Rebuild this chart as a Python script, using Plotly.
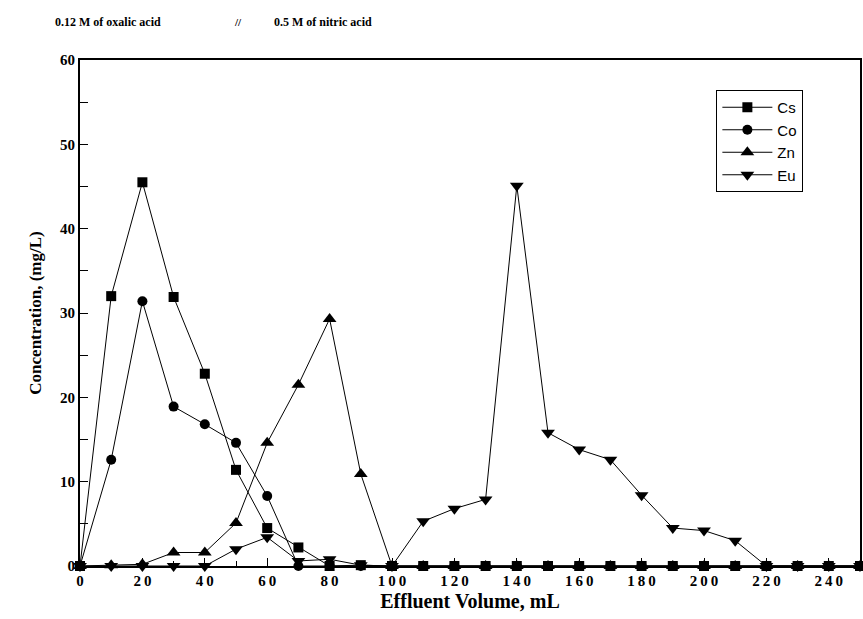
import plotly.graph_objects as go

volume = [0, 10, 20, 30, 40, 50, 60, 70, 80, 90, 100, 110, 120, 130, 140, 150,
          160, 170, 180, 190, 200, 210, 220, 230, 240, 250]
cs = [0, 32.0, 45.5, 31.9, 22.8, 11.4, 4.5, 2.2, 0, 0.1, 0, 0, 0, 0, 0, 0,
      0, 0, 0, 0, 0, 0, 0, 0, 0, 0]
co = [0, 12.6, 31.4, 18.9, 16.8, 14.6, 8.3, 0, 0, 0, 0, 0, 0, 0, 0, 0,
      0, 0, 0, 0, 0, 0, 0, 0, 0, 0]
zn = [0, 0.1, 0.2, 1.6, 1.6, 5.1, 14.6, 21.5, 29.3, 10.9, 0, 0, 0, 0, 0, 0,
      0, 0, 0, 0, 0, 0, 0, 0, 0, 0]
eu = [0, 0, 0, 0, 0, 2.0, 3.4, 0.6, 0.8, 0.1, 0, 5.3, 6.8, 7.9, 45.1, 15.8,
      13.8, 12.6, 8.4, 4.5, 4.2, 3.0, 0, 0, 0, 0]

x_ticks = [0, 20, 40, 60, 80, 100, 120, 140, 160, 180, 200, 220, 240]
x_ticktext = ["\u2009".join(str(v)) for v in x_ticks]

series = [("Cs", cs, "square", 10), ("Co", co, "circle", 10),
          ("Zn", zn, "triangle-up", 12), ("Eu", eu, "triangle-down", 12)]

fig = go.Figure()
for name, vals, sym, sz in series:
    fig.add_trace(go.Scatter(
        x=volume, y=vals, name=name, mode="lines+markers",
        line=dict(color="black", width=1),
        marker=dict(symbol=sym, size=sz, color="black"),
        cliponaxis=False))

serif = "Liberation Serif"
fig.update_layout(
    width=863, height=619,
    margin=dict(l=80, r=1, t=60, b=53),
    plot_bgcolor="white", paper_bgcolor="white",
    showlegend=True,
    legend=dict(x=(718 - 80) / 782, y=(566 - 90) / 506, xanchor="left", yanchor="top",
                bordercolor="black", borderwidth=1, bgcolor="white",
                font=dict(family="Liberation Sans", size=15, color="black"),
                tracegroupgap=0, itemwidth=50),
    xaxis=dict(range=[0, 250], tickvals=x_ticks, ticktext=x_ticktext,
               showgrid=False, zeroline=False,
               showline=True, linecolor="black", linewidth=2, mirror=True,
               ticks="inside", ticklen=8, tickcolor="black",
               minor=dict(dtick=10, ticks="inside", ticklen=5, tickcolor="black"),
               tickfont=dict(family=serif, size=15, color="black", weight="bold"),
               title=dict(text="<b>Effluent Volume, mL</b>", standoff=6,
                          font=dict(family=serif, size=20, color="black"))),
    yaxis=dict(range=[0, 60], tick0=0, dtick=10, showgrid=False, zeroline=False,
               showline=True, linecolor="black", linewidth=2, mirror=True,
               ticks="inside", ticklen=8, tickcolor="black",
               minor=dict(dtick=5, ticks="inside", ticklen=8, tickcolor="black"),
               tickfont=dict(family=serif, size=15, color="black", weight="bold"),
               title=dict(text="<b>Concentration, (mg/L)</b>", standoff=14,
                          font=dict(family=serif, size=17, color="black"))),
    annotations=[
        dict(text="<b>0.12 M of oxalic acid</b>", xref="paper", yref="paper",
             x=(53 - 80) / 782, y=(566 - 22) / 506, xanchor="left", yanchor="middle",
             showarrow=False, font=dict(family=serif, size=12, color="black")),
        dict(text="<b>//</b>", xref="paper", yref="paper",
             x=(238 - 80) / 782, y=(566 - 22) / 506, xanchor="center", yanchor="middle",
             showarrow=False, font=dict(family=serif, size=11, color="black")),
        dict(text="<b>0.5 M of nitric acid</b>", xref="paper", yref="paper",
             x=(272 - 80) / 782, y=(566 - 22) / 506, xanchor="left", yanchor="middle",
             showarrow=False, font=dict(family=serif, size=12, color="black")),
    ],
)

fig.write_html("out.html")
